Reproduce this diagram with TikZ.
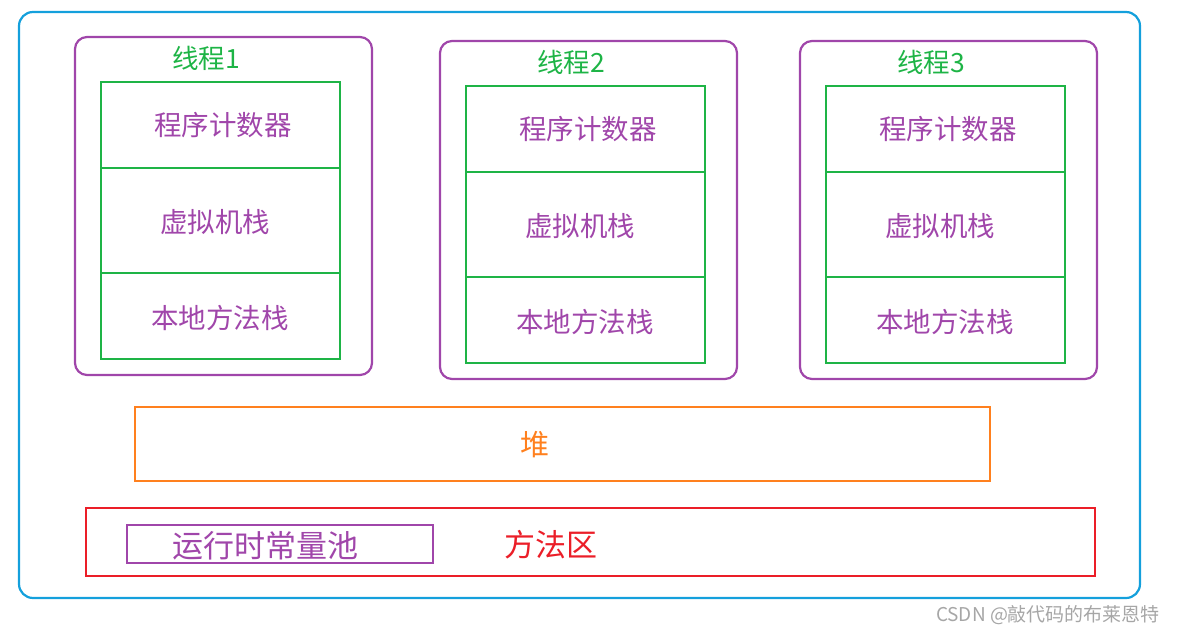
\documentclass[tikz,border=0pt]{standalone}
\usepackage{fontspec}
\setmainfont{Noto Sans CJK SC}
\begin{document}
\begin{tikzpicture}[x=1pt,y=-1pt,line width=2.2pt,
  thr/.style={draw=tpurple,rounded corners=12pt},
  grn/.style={draw=tgreen},
  ptxt/.style={text=tpurple,font=\fontsize{27.5}{30}\selectfont},
  gtxt/.style={text=tgreen,font=\fontsize{26.5}{29}\selectfont}]
\definecolor{tblue}{RGB}{20,160,220}
\definecolor{tpurple}{RGB}{160,70,170}
\definecolor{tgreen}{RGB}{30,180,70}
\definecolor{torange}{RGB}{255,128,30}
\definecolor{tred}{RGB}{235,30,40}
\useasboundingbox (0,0) rectangle (1178,634);
\draw[draw=tblue,rounded corners=14pt] (19,12) rectangle (1140,598);
\foreach \x/\y/\n in {75/37/1,440/41/2,800/41/3}{
  \draw[thr] (\x,\y) rectangle ++(297,338);
  \draw[grn] (\x+26,\y+45) rectangle ++(239,277);
  \draw[tgreen] (\x+26,\y+131) -- ++(239,0);
  \draw[tgreen] (\x+26,\y+236) -- ++(239,0);
  \node[gtxt] (t\n) at (\x+131,\y+21) {线程\n};
  \node[ptxt] (pc\n) at (\x+148,\y+88) {程序计数器};
  \node[ptxt] (vm\n) at (\x+140,\y+185) {虚拟机栈};
  \node[ptxt] (nm\n) at (\x+145,\y+281) {本地方法栈};
}
\draw[torange] (135,407) rectangle (990,481);
\node[text=torange,font=\fontsize{29}{32}\selectfont] (heap) at (535,445) {堆};
\draw[tred] (86,508) rectangle (1095,576);
\node[text=tred,font=\fontsize{31}{34}\selectfont] (ma) at (551,545) {方法区};
\draw[tpurple] (127,525) rectangle (433,563);
\node[text=tpurple,font=\fontsize{31}{34}\selectfont] (rcp) at (265,546) {运行时常量池};
\node[text=gray!70,font=\fontsize{19}{21}\selectfont] (wm) at (1048,615) {CSDN @敲代码的布莱恩特};
\end{tikzpicture}
\end{document}
